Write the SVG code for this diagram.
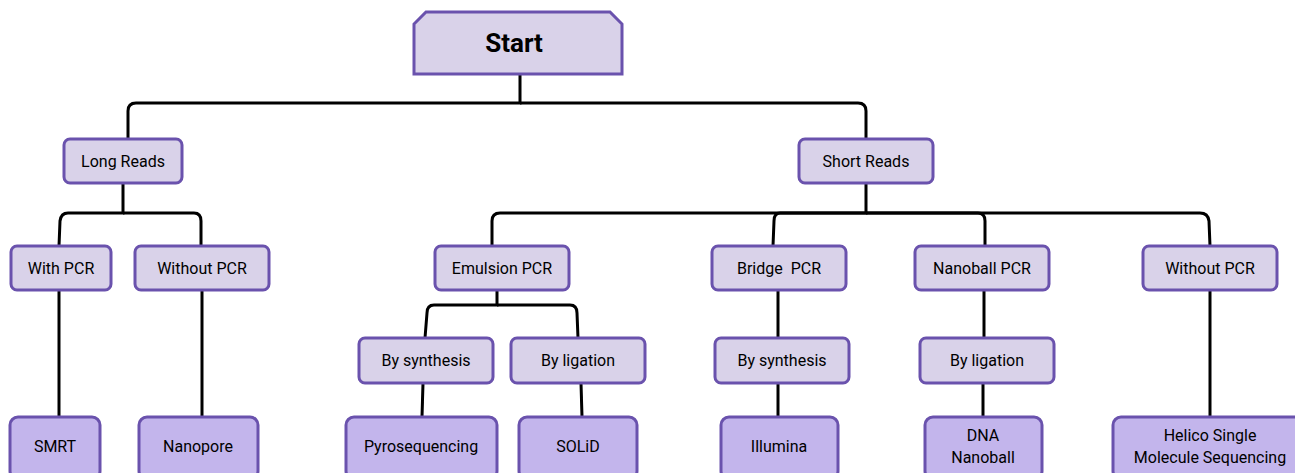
<svg xmlns="http://www.w3.org/2000/svg" width="1295" height="473" viewBox="0 0 1295 473">
<style>
.n rect,.n polygon{fill:#d9d2e9;stroke:#6a52ad;stroke-width:3}
.leaf rect{fill:#c3b5ec;stroke:#6a52ad;stroke-width:3}
text{font-family:Roboto,"Liberation Sans",sans-serif;font-size:16px;fill:#000;text-anchor:middle;dominant-baseline:central}
.big{font-size:26px;font-weight:bold}
#connectors path{fill:none;stroke:#000;stroke-width:3}
</style>
<rect width="1295" height="473" fill="#fff"/>
<g id="connectors">
<path d="M520,74 V103 H136 Q128,103 128,111 V139"/>
<path d="M520,103 H858 Q866,103 866,111 V139"/>
<path d="M123,183 V213 H68 Q61,213 60,221 L59,246"/>
<path d="M123,213 H194 Q201,213 201,221 V246"/>
<path d="M59,290 V417"/>
<path d="M202,290 V417"/>
<path d="M866,183 V213 H500 Q492,213 492,221 V246"/>
<path d="M866,213 H780 Q774,213 774,221 L773,246"/>
<path d="M866,213 H978 Q985,213 985,221 V246"/>
<path d="M866,213 H1200 Q1208,213 1209,221 L1210,246"/>
<path d="M497,290 V305 H434 Q427,305 427,313 L425,338"/>
<path d="M497,305 H570 Q577,305 577,313 L578,338"/>
<path d="M423,383 L422,417"/>
<path d="M581,383 L582,417"/>
<path d="M778,290 V338"/>
<path d="M778,383 V417"/>
<path d="M984,290 V338"/>
<path d="M983,383 V417"/>
<path d="M1210,290 V417"/>
</g>
<g id="start" class="n"><polygon points="426,12 610,12 622,24 622,74 414,74 414,24"/><text x="514" y="43" class="big">Start</text></g>
<g id="long-reads" class="n"><rect x="64" y="139" width="118" height="44" rx="6"/><text x="123" y="161">Long Reads</text></g>
<g id="short-reads" class="n"><rect x="799" y="139" width="134" height="44" rx="6"/><text x="866" y="161">Short Reads</text></g>
<g id="with-pcr" class="n"><rect x="11" y="246" width="100" height="44" rx="6"/><text x="61" y="268">With PCR</text></g>
<g id="without-pcr-long" class="n"><rect x="135" y="246" width="134" height="44" rx="6"/><text x="202" y="268">Without PCR</text></g>
<g id="emulsion-pcr" class="n"><rect x="435" y="246" width="134" height="44" rx="6"/><text x="502" y="268">Emulsion PCR</text></g>
<g id="bridge-pcr" class="n"><rect x="712" y="246" width="134" height="44" rx="6"/><text x="779" y="268" xml:space="preserve">Bridge  PCR</text></g>
<g id="nanoball-pcr" class="n"><rect x="915" y="246" width="134" height="44" rx="6"/><text x="982" y="268">Nanoball PCR</text></g>
<g id="without-pcr-short" class="n"><rect x="1143" y="246" width="134" height="44" rx="6"/><text x="1210" y="268">Without PCR</text></g>
<g id="by-synthesis-1" class="n"><rect x="359" y="338" width="134" height="45" rx="6"/><text x="426" y="360">By synthesis</text></g>
<g id="by-ligation-1" class="n"><rect x="511" y="338" width="134" height="45" rx="6"/><text x="578" y="360">By ligation</text></g>
<g id="by-synthesis-2" class="n"><rect x="715" y="338" width="134" height="45" rx="6"/><text x="782" y="360">By synthesis</text></g>
<g id="by-ligation-2" class="n"><rect x="920" y="338" width="134" height="45" rx="6"/><text x="987" y="360">By ligation</text></g>
<g id="smrt" class="leaf"><rect x="10" y="417" width="90" height="62" rx="8"/><text x="55" y="446">SMRT</text></g>
<g id="nanopore" class="leaf"><rect x="139" y="417" width="119" height="62" rx="8"/><text x="198" y="446">Nanopore</text></g>
<g id="pyrosequencing" class="leaf"><rect x="346" y="417" width="151" height="62" rx="8"/><text x="421" y="446">Pyrosequencing</text></g>
<g id="solid" class="leaf"><rect x="519" y="417" width="118" height="62" rx="8"/><text x="578" y="446">SOLiD</text></g>
<g id="illumina" class="leaf"><rect x="721" y="417" width="117" height="62" rx="8"/><text x="779" y="446">Illumina</text></g>
<g id="dna-nanoball" class="leaf"><rect x="925" y="417" width="117" height="62" rx="8"/><text x="983" y="435">DNA</text><text x="983" y="457">Nanoball</text></g>
<g id="helico" class="leaf"><rect x="1113" y="417" width="190" height="62" rx="8"/><text x="1210" y="435">Helico Single</text><text x="1210" y="457">Molecule Sequencing</text></g>
</svg>
